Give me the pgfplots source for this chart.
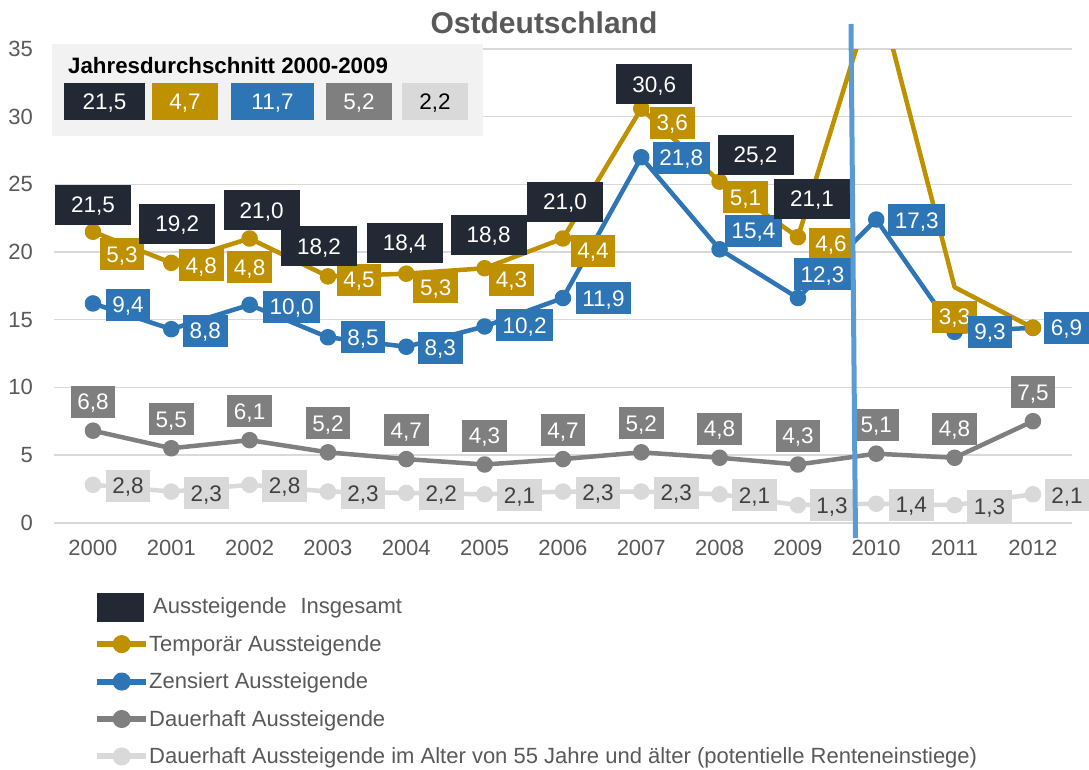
\documentclass[border=0pt]{standalone}
\usepackage{pgfplots}
\pgfplotsset{compat=1.18}
\usepackage{pgfplotstable}
\usepackage{fontspec}
\setmainfont{Liberation Sans}

\definecolor{cNavy}{HTML}{222935}
\definecolor{cGold}{HTML}{BF9000}
\definecolor{cBlue}{HTML}{2E75B6}
\definecolor{cGray}{HTML}{7F7F7F}
\definecolor{cLight}{HTML}{D9D9D9}
\definecolor{cVline}{HTML}{5B9BD5}
\definecolor{cText}{HTML}{595959}
\definecolor{cInset}{HTML}{F2F2F2}
\definecolor{cDark}{HTML}{404040}

% Aussteigende Insgesamt (labels sit on the top of the stacked line)
\pgfplotstableread{
year y lab dx dy
2000 21.5 21,5 0 27
2001 19.2 19,2 6 39
2002 21.0 21,0 12 28
2003 18.2 18,2 -9 30
2004 18.4 18,4 -1.5 31
2005 18.8 18,8 4 33.5
2006 21.0 21,0 2 36.5
2007 30.6 30,6 13 24.5
2008 25.2 25,2 36 27
2009 21.1 21,1 14 38.5
}\insg

% Temporaer Aussteigende (stacked on top)
\pgfplotstableread{
year y lab dx dy
2000 21.5 5,3 29 -22.5
2001 19.2 4,8 30 -2.5
2002 21.0 4,8 0 -29
2003 18.2 4,5 31 -3.5
2004 18.4 5,3 29.5 -13.5
2005 18.8 4,3 27 -11.5
2006 21.0 4,4 30 -12.5
2007 30.6 3,6 31 -14
2008 25.2 5,1 26 -15.5
2009 21.1 4,6 33 -6.5
2010 39.8 - 0 0
2011 17.4 3,3 0 -29.5
2012 14.4 - 0 0
}\temp

% Zensiert Aussteigende (stacked)
\pgfplotstableread{
year y lab dx dy
2000 16.2 9,4 35 -1.5
2001 14.3 8,8 34 -1.5
2002 16.1 10,0 42 -2
2003 13.7 8,5 35 0
2004 13.0 8,3 34 -1
2005 14.5 10,2 40 1
2006 16.6 11,9 40.5 0
2007 27.0 21,8 40 -0.5
2008 20.2 15,4 34 18.5
2009 16.6 12,3 24.5 24
2010 22.4 17,3 40.5 -0.5
2011 14.1 9,3 35.5 0
2012 14.4 6,9 33.5 0
}\zens

% Dauerhaft Aussteigende
\pgfplotstableread{
year y lab dx dy
2000 6.8 6,8 0 29
2001 5.5 5,5 0 29
2002 6.1 6,1 0 29
2003 5.2 5,2 0 29
2004 4.7 4,7 0 29
2005 4.3 4,3 0 29
2006 4.7 4,7 0 29
2007 5.2 5,2 0 29
2008 4.8 4,8 0 29
2009 4.3 4,3 0 29
2010 5.1 5,1 0 29
2011 4.8 4,8 0 29
2012 7.5 7,5 0 29
}\dauer

% Dauerhaft Aussteigende 55+
\pgfplotstableread{
year y lab dx dy
2000 2.8 2,8 35 -1
2001 2.3 2,3 35 -1.5
2002 2.8 2,8 35 -1
2003 2.3 2,3 35 -1.5
2004 2.2 2,2 35 -1
2005 2.1 2,1 35 -1
2006 2.3 2,3 35 -1
2007 2.3 2,3 35 -1
2008 2.1 2,1 35 -1
2009 1.3 1,3 34 0
2010 1.4 1,4 35 -1
2011 1.3 1,3 35 -1
2012 2.1 2,1 34 -1
}\alt

\pgfplotsset{
  lblplot/.style={draw=none, mark=none, forget plot,
    point meta=explicit symbolic,
    visualization depends on={\thisrow{dx} \as \ldx},
    visualization depends on={\thisrow{dy} \as \ldy},
    nodes near coords,
    nodes near coords style={anchor=center, xshift=\ldx pt, yshift=\ldy pt,
      font=\fontsize{22.5}{22.5}\selectfont, text height=16pt, text depth=0pt,
      inner xsep=6.7pt, inner ysep=8pt},
  },
  lineplot/.style={#1, line width=4.5pt, line join=round, forget plot,
    mark=*, mark size=6pt, mark options={draw=none, fill=#1}},
  legline/.style={#1, line width=6pt, mark=*, mark size=6pt, mark options={draw=none, fill=#1},
    legend image code/.code={\draw[mark repeat=2, mark phase=2] plot coordinates {(0pt,0pt) (24.5pt,0pt) (49pt,0pt)};}},
}

\begin{document}
\begin{tikzpicture}
\useasboundingbox (0,0) rectangle (1089pt,769pt);
\begin{axis}[
  at={(53.8pt,246.3pt)}, anchor=south west,
  x=78.33pt, y=13.534pt, scale only axis,
  xmin=1999.5, xmax=2012.5, ymin=0, ymax=35,
  axis line style={draw=none},
  major tick length=0pt,
  xtick={2000,...,2012}, ytick={0,5,...,35},
  ymajorgrids, grid style={cLight, line width=1.6pt},
  /pgf/number format/assume math mode=true,
  tick label style={font=\fontsize{22}{22}\selectfont, text=cText, inner sep=0pt},
  xticklabel style={/pgf/number format/1000 sep={}, anchor=center, yshift=-25.3pt},
  yticklabel style={anchor=east, xshift=-20.8pt},
  clip=true,
  legend style={at={(0.0395,-0.1585)}, anchor=north west, draw=none, fill=none,
    inner sep=0pt, row sep=20pt, column sep=0pt,
    font=\fontsize{22}{22}\selectfont, text=cText,
    nodes={inner sep=0pt, text depth=0.15em}},
  legend cell align=left,
]
\addlegendimage{legend image code/.code={\fill[cNavy, overlay] (0pt,-14pt) rectangle (46pt,14pt); \path[draw=none, fill=none] (0pt,-5pt) rectangle (49pt,5pt);}}
\addlegendentry{\hspace{4pt}Aussteigende\hspace{8pt} Insgesamt}
\addlegendimage{legline=cGold}
\addlegendentry{Temporär Aussteigende}
\addlegendimage{legline=cBlue}
\addlegendentry{Zensiert Aussteigende}
\addlegendimage{legline=cGray}
\addlegendentry{Dauerhaft Aussteigende}
\addlegendimage{legline=cLight}
\addlegendentry{Dauerhaft Aussteigende im Alter von 55 Jahre und älter (potentielle Renteneinstiege)}

\addplot[lineplot=cLight] table[x=year, y=y] \alt;
\addplot[lineplot=cGray] table[x=year, y=y] \dauer;
\addplot[lineplot=cBlue] table[x=year, y=y] \zens;
\addplot[lineplot=cGold, mark indices={1,2,3,4,5,6,7,8,9,10,12,13}] table[x=year, y=y] \temp;

\addplot[lblplot, nodes near coords style={fill=cLight, text=cDark}] table[x=year, y=y, meta=lab] \alt;
\addplot[lblplot, nodes near coords style={fill=cGray, text=white}] table[x=year, y=y, meta=lab] \dauer;
\addplot[lblplot, skip coords between index={10}{11}, skip coords between index={12}{13},
  nodes near coords style={fill=cGold, text=white}] table[x=year, y=y, meta=lab] \temp;
\addplot[lblplot, nodes near coords style={fill=cBlue, text=white}] table[x=year, y=y, meta=lab] \zens;
\addplot[lblplot, nodes near coords style={fill=cNavy, text=white, inner xsep=16pt, inner ysep=12pt}] table[x=year, y=y, meta=lab] \insg;
\end{axis}

% vertical marker line
\draw[cVline, line width=5pt] (851pt,745pt) -- (855.5pt,231pt);

% title
\node[font=\bfseries\fontsize{30}{30}\selectfont, text=cText, inner sep=0pt] at (544pt,746.5pt) {Ostdeutschland};

% inset: annual average 2000-2009
\fill[cInset] (52pt,725pt) rectangle (483pt,633pt);
\node[anchor=west, inner sep=0pt, font=\bfseries\fontsize{22.3}{22.3}\selectfont] at (68pt,703.5pt) {Jahresdurchschnitt 2000-2009};
\begin{scope}[every node/.style={inner sep=0pt, minimum height=37pt, font=\fontsize{22.5}{22.5}\selectfont, text height=16pt, text depth=0pt}]
\node[fill=cNavy, text=white, minimum width=81pt] at (104.5pt,667.5pt) {21,5};
\node[fill=cGold, text=white, minimum width=66pt] at (185pt,667.5pt) {4,7};
\node[fill=cBlue, text=white, minimum width=83pt] at (272.5pt,667.5pt) {11,7};
\node[fill=cGray, text=white, minimum width=66pt] at (359pt,667.5pt) {5,2};
\node[fill=cLight, text=black, minimum width=66pt] at (435pt,667.5pt) {2,2};
\end{scope}
\end{tikzpicture}
\end{document}
